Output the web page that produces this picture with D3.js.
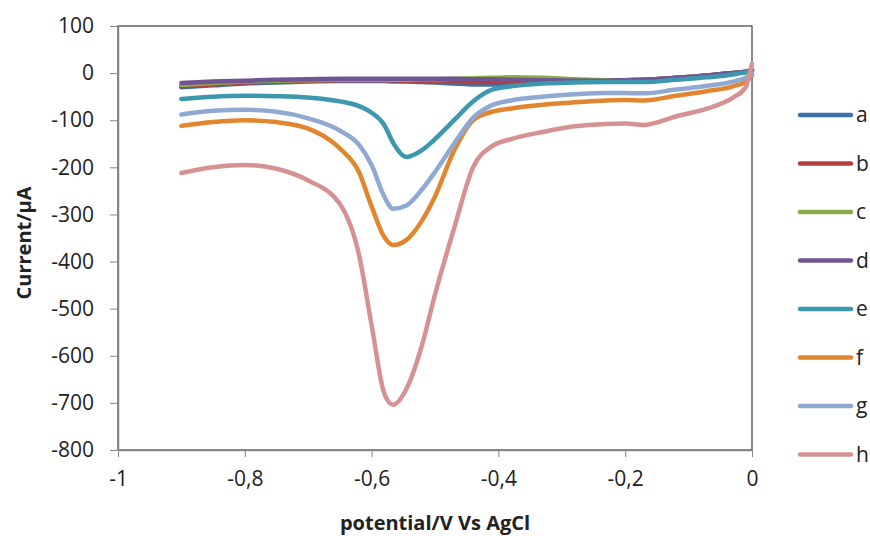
<html>
<head>
<script src="https://d3js.org/d3.v7.min.js" charset="utf-8"></script>
<style>
    body { margin: 0; background: #fff; }
    text { font-family: "Open Sans", "Noto Sans", sans-serif; fill: #222; }
    .axis path, .axis line { stroke: #868686; }
</style>
</head>
<body>
<script>
// potential grid (V vs AgCl), shared by all curves
const potential = [-0.9, -0.85, -0.8, -0.75, -0.7, -0.65, -0.62, -0.6, -0.58, -0.566, -0.545, -0.52, -0.5,
                   -0.47, -0.44, -0.41, -0.38, -0.33, -0.28, -0.23, -0.2, -0.17, -0.12, -0.07, -0.03, -0.01, 0];

// currents in µA for each curve
const curA = [-30, -26, -22, -20, -18, -17, -17, -17, -17, -18, -18, -19, -20, -22, -24, -24, -22, -20, -18, -16, -15, -14, -10, -5, 0, 3, 6];
const curB = [-28, -24, -20, -18, -16, -15, -15, -15, -15, -15, -16, -16, -17, -18, -19, -19, -18, -17, -16, -15, -15, -14, -10, -5, 0, 3, 6];
const curC = [-25, -21, -18, -16, -15, -14, -14, -14, -14, -14, -14, -13, -13, -12, -11, -10, -9, -10, -13, -15, -15, -14, -10, -5, -1, 2, 5];
const curD = [-21, -18, -16, -14, -13, -12, -12, -12, -12, -12, -12, -12, -12, -12, -13, -13, -14, -15, -16, -16, -15, -14, -10, -5, 0, 3, 7];
const curE = [-55, -50, -48, -49, -52, -60, -70, -84, -110, -148, -178, -163, -140, -100, -60, -35, -28, -22, -20, -19, -19, -19, -14, -9, -3, 2, 5];
const curF = [-112, -104, -100, -104, -118, -160, -210, -283, -348, -365, -354, -312, -262, -165, -100, -82, -75, -67, -62, -58, -57, -58, -48, -38, -28, -18, -5];
const curG = [-88, -80, -78, -82, -96, -122, -152, -195, -262, -288, -281, -246, -210, -150, -95, -68, -58, -50, -45, -42, -42, -43, -35, -27, -18, -10, -2];
const curH = [-212, -200, -195, -203, -228, -278, -385, -535, -680, -704, -670, -575, -470, -330, -200, -155, -140, -125, -113, -108, -107, -110, -92, -75, -52, -30, 20];

const seriesNames = ['a', 'b', 'c', 'd', 'e', 'f', 'g', 'h'];
const seriesValues = [curA, curB, curC, curD, curE, curF, curG, curH];
const seriesColors = ['#3f70aa', '#b43e3b', '#8cab4a', '#705494', '#3d98af', '#e2852f', '#8fa9d3', '#d69292'];

const xTicks = [-1, -0.8, -0.6, -0.4, -0.2, 0];
const xTickLabels = ['-1', '-0,8', '-0,6', '-0,4', '-0,2', '0'];
const yTicks = [100, 0, -100, -200, -300, -400, -500, -600, -700, -800];

const w = 870, h = 536;
const plot = {left: 118, right: 752, top: 26, bottom: 450};

const svg = d3.select('body').append('svg')
    .attr('width', w)
    .attr('height', h);

const xScale = d3.scaleLinear().domain([-1, 0]).range([plot.left, plot.right]);
const yScale = d3.scaleLinear().domain([-800, 100]).range([plot.bottom, plot.top]);

// plot frame (top/right dark)
svg.append('rect')
    .attr('x', plot.left)
    .attr('y', plot.top)
    .attr('width', plot.right - plot.left)
    .attr('height', plot.bottom - plot.top)
    .attr('fill', 'none')
    .attr('stroke', '#3c3c3c')
    .attr('stroke-width', 1.2);

const xAxis = d3.axisBottom(xScale)
    .tickValues(xTicks)
    .tickFormat((d, i) => xTickLabels[i])
    .tickSizeInner(7)
    .tickSizeOuter(0)
    .tickPadding(14);

const yAxis = d3.axisLeft(yScale)
    .tickValues(yTicks)
    .tickFormat(d => String(d))
    .tickSizeInner(8)
    .tickSizeOuter(0)
    .tickPadding(16);

svg.append('g')
    .attr('class', 'axis')
    .attr('transform', 'translate(0,' + plot.bottom + ')')
    .call(xAxis)
    .selectAll('text')
    .style('font-size', '21px');

svg.append('g')
    .attr('class', 'axis')
    .attr('transform', 'translate(' + plot.left + ',0)')
    .call(yAxis)
    .selectAll('text')
    .style('font-size', '21px');

svg.selectAll('.axis path').attr('stroke-width', 1.5);

// curves
const line = d3.line()
    .x((d, i) => xScale(potential[i]))
    .y(d => yScale(d))
    .curve(d3.curveMonotoneX);

svg.append('g')
    .selectAll('path')
    .data(seriesValues)
    .enter()
    .append('path')
    .attr('d', line)
    .attr('fill', 'none')
    .attr('stroke', (d, i) => seriesColors[i])
    .attr('stroke-width', 4.5)
    .attr('stroke-linecap', 'round')
    .attr('stroke-linejoin', 'round');

// axis titles
svg.append('text')
    .attr('x', 435)
    .attr('y', 530)
    .attr('text-anchor', 'middle')
    .style('font-size', '20px')
    .style('font-weight', 'bold')
    .text('potential/V Vs AgCl');

svg.append('text')
    .attr('transform', 'translate(31,243) rotate(-90)')
    .attr('text-anchor', 'middle')
    .style('font-size', '20px')
    .style('font-weight', 'bold')
    .text('Current/µA');

// legend
const legend = svg.append('g')
    .selectAll('g')
    .data(seriesNames)
    .enter()
    .append('g')
    .attr('transform', (d, i) => 'translate(798,' + (115 + i * 48.5) + ')');

legend.append('line')
    .attr('x1', 2)
    .attr('x2', 53)
    .attr('stroke', (d, i) => seriesColors[i])
    .attr('stroke-width', 4.5)
    .attr('stroke-linecap', 'round');

legend.append('text')
    .attr('x', 58)
    .attr('dy', '0.35em')
    .style('font-size', '21px')
    .text(d => d);
</script>
</body>
</html>
